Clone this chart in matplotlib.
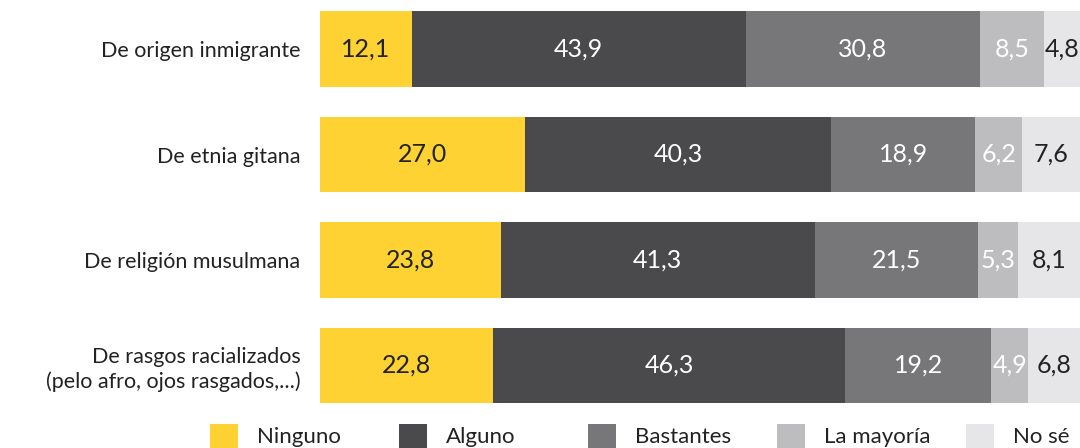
import matplotlib
matplotlib.use("Agg")
import matplotlib.pyplot as plt
from matplotlib.patches import Rectangle

categories = ["De origen inmigrante", "De etnia gitana", "De religión musulmana",
              "De rasgos racializados\n(pelo afro, ojos rasgados,...)"]
series_names = ["Ninguno", "Alguno", "Bastantes", "La mayoría", "No sé"]
ninguno = [12.1, 27.0, 23.8, 22.8]
alguno = [43.9, 40.3, 41.3, 46.3]
bastantes = [30.8, 18.9, 21.5, 19.2]
mayoria = [8.5, 6.2, 5.3, 4.9]
nose = [4.8, 7.6, 8.1, 6.8]

series = [ninguno, alguno, bastantes, mayoria, nose]
colors = ["#FDD232", "#4A4A4C", "#77777A", "#BDBDC0", "#E6E6E8"]
text_colors = ["#222222", "white", "white", "white", "#222222"]

plt.rcParams['font.family'] = ['Lato', 'DejaVu Sans']

W, H = 1080, 448
fig = plt.figure(figsize=(W/100, H/100), dpi=100)
ax = fig.add_axes([320/W, (H-418.25)/H, 760/W, 422/H])

y = list(range(len(categories)))
left = [0.0]*len(categories)
for vals, c, tc in zip(series, colors, text_colors):
    ax.barh(y, vals, left=left, color=c, height=0.72, edgecolor='none')
    for yi, v, l in zip(y, vals, left):
        ax.text(l + v/2, yi, f"{v:.1f}".replace('.', ','), ha='center', va='center',
                color=tc, fontsize=18)
    left = [a+b for a, b in zip(left, vals)]

ax.set_xlim(0, 100)
ax.set_ylim(3.5, -0.5)
ax.set_yticks(y)
ax.set_yticklabels(categories, fontsize=15.5, color='#222222', ha='right',
                   linespacing=1.25)
ax.tick_params(axis='y', length=0, pad=14)
ax.set_xticks([])
for s in ax.spines.values():
    s.set_visible(False)

# legend drawn at fixed column positions
leg_x = [210, 399, 588, 777, 966]
for x0, name, c in zip(leg_x, series_names, colors):
    fig.add_artist(Rectangle((x0/W, 0), 28/W, 24/H, transform=fig.transFigure,
                             facecolor=c, edgecolor='none'))
    fig.text((x0+47)/W, (H-437)/H, name, ha='left', va='center',
             fontsize=16, color='#222222')

fig.savefig("out.png", dpi=100)
